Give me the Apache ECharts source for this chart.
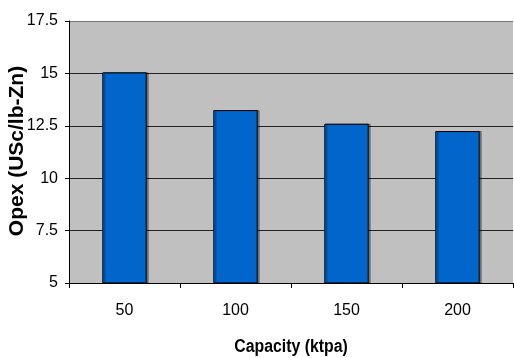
<!DOCTYPE html>
<html>
<head>
<meta charset="utf-8">
<script src="https://cdn.jsdelivr.net/npm/echarts@6/dist/echarts.min.js"></script>
<style>
  html, body { margin: 0; padding: 0; background: #fff; }
  #chart { width: 514px; height: 358px; }
</style>
</head>
<body>
<div id="chart"></div>
<script>
// Plant capacity vs operating cost
const capacities = ['50', '100', '150', '200'];
const opexValues = [15.05, 13.25, 12.6, 12.25];
const yTicks = { min: 5, max: 17.5, step: 2.5 };
const xTitle = 'Capacity (ktpa)';
const yTitle = 'Opex (USc/lb-Zn)';

const FONT = 'Liberation Sans, Arial, sans-serif';
const chart = echarts.init(document.getElementById('chart'), null, { renderer: 'canvas' });

chart.setOption({
  animation: false,
  grid: {
    left: 69, right: 1, top: 21, bottom: 75,
    containLabel: false,
    outerBoundsMode: 'none',
    show: true, backgroundColor: '#C0C0C0', borderWidth: 0
  },
  // bold axis titles
  graphic: [{
    type: 'text',
    x: 291,
    y: 347,
    scaleX: 0.88,
    style: {
      text: xTitle,
      fontFamily: FONT,
      fontWeight: 'bold',
      fontSize: 18,
      fill: '#000',
      align: 'center',
      verticalAlign: 'middle'
    }
  }, {
    type: 'text',
    x: 17,
    y: 151,
    rotation: Math.PI / 2,
    style: {
      text: yTitle,
      fontFamily: FONT,
      fontWeight: 'bold',
      fontSize: 21,
      fill: '#000',
      align: 'center',
      verticalAlign: 'middle'
    }
  }],
  xAxis: {
    type: 'category',
    data: capacities,
    axisLine: { lineStyle: { color: '#000', width: 1 } },
    axisTick: { show: true, length: 5, lineStyle: { color: '#000' } },
    axisLabel: { fontFamily: FONT, fontSize: 16, color: '#000', margin: 20 },
    splitLine: { show: false }
  },
  yAxis: {
    type: 'value',
    min: yTicks.min,
    max: yTicks.max,
    interval: yTicks.step,
    axisLine: { show: true, lineStyle: { color: '#000', width: 1 } },
    axisTick: { show: true, length: 4, lineStyle: { color: '#000' } },
    axisLabel: { fontFamily: FONT, fontSize: 16, color: '#000', margin: 11 },
    splitLine: { show: true, lineStyle: { color: ['#222', '#222', '#222', '#222', '#222', '#777'], width: 1 } }
  },
  series: [{
    type: 'bar',
    data: opexValues,
    barWidth: '40%',
    itemStyle: {
      color: '#0066CC',
      borderColor: '#000',
      borderWidth: 1,
      shadowColor: 'rgba(0,0,0,0.35)',
      shadowOffsetX: 2,
      shadowOffsetY: 0,
      shadowBlur: 0
    }
  }]
});
</script>
</body>
</html>
